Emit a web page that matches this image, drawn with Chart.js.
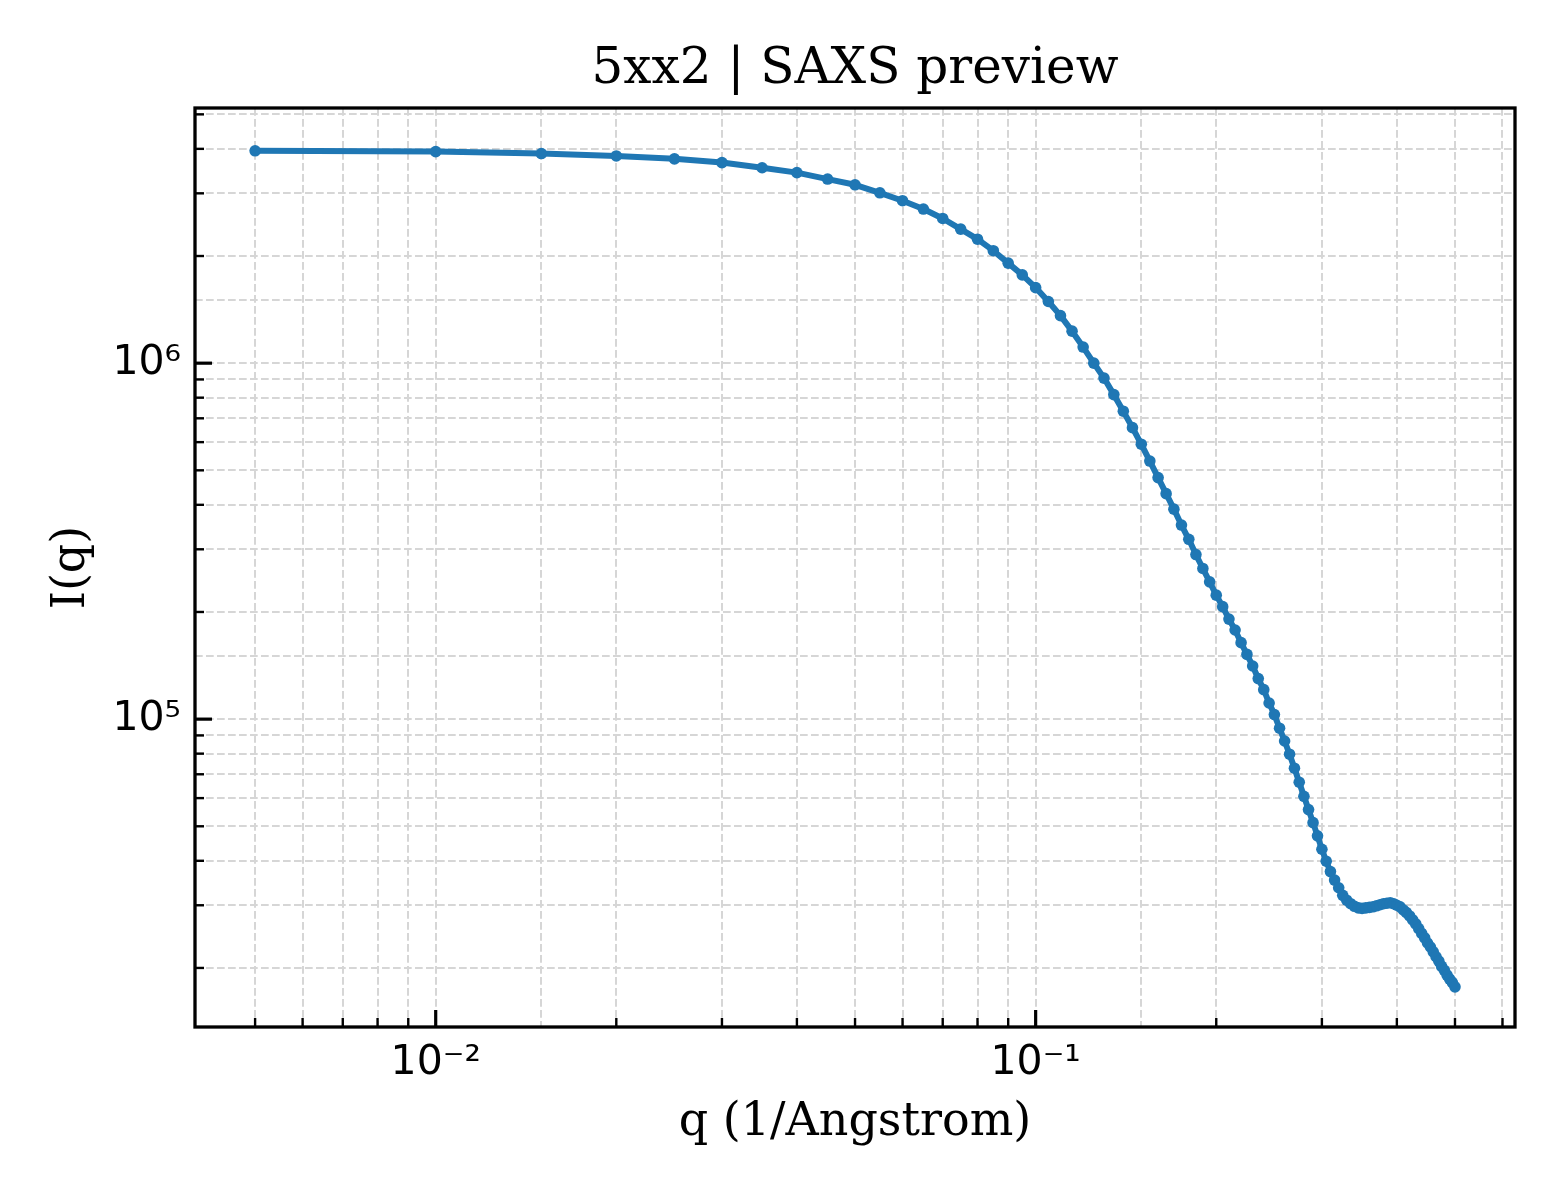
<!DOCTYPE html>
<html>
<head>
<meta charset="utf-8">
<title>5xx2 | SAXS preview</title>
<script src="https://cdn.jsdelivr.net/npm/chart.js@4.4.0/dist/chart.umd.min.js"></script>
<style>
  html, body { margin: 0; padding: 0; background: #fff; }
  #wrap { width: 1560px; height: 1200px; }
</style>
</head>
<body>
<div id="wrap"><canvas id="saxs" width="1560" height="1200"></canvas></div>
<script>
"use strict";

// q in 1/Angstrom
const qValues = [
  0.005, 0.010, 0.015, 0.020, 0.025, 0.030, 0.035, 0.040, 0.045, 0.050,
  0.055, 0.060, 0.065, 0.070, 0.075, 0.080, 0.085, 0.090, 0.095, 0.100,
  0.105, 0.110, 0.115, 0.120, 0.125, 0.130, 0.135, 0.140, 0.145, 0.150,
  0.155, 0.160, 0.165, 0.170, 0.175, 0.180, 0.185, 0.190, 0.195, 0.200,
  0.205, 0.210, 0.215, 0.220, 0.225, 0.230, 0.235, 0.240, 0.245, 0.250,
  0.255, 0.260, 0.265, 0.270, 0.275, 0.280, 0.285, 0.290, 0.295, 0.300,
  0.305, 0.310, 0.315, 0.320, 0.325, 0.330, 0.335, 0.340, 0.345, 0.350,
  0.355, 0.360, 0.365, 0.370, 0.375, 0.380, 0.385, 0.390, 0.395, 0.400,
  0.405, 0.410, 0.415, 0.420, 0.425, 0.430, 0.435, 0.440, 0.445, 0.450,
  0.455, 0.460, 0.465, 0.470, 0.475, 0.480, 0.485, 0.490, 0.495, 0.500
];

// I(q)
const intensity = [
  3.95e6, 3.93e6, 3.88e6, 3.82e6, 3.75e6, 3.66e6, 3.54e6, 3.43e6, 3.29e6, 3.17e6,
  3.01e6, 2.86e6, 2.71e6, 2.55e6, 2.38e6, 2.23e6, 2.07e6, 1.91e6, 1.77e6, 1.63e6,
  1.49e6, 1.36e6, 1.23e6, 1.11e6, 1.00e6, 9.08e5, 8.16e5, 7.33e5, 6.59e5, 5.92e5,
  5.31e5, 4.77e5, 4.30e5, 3.89e5, 3.51e5, 3.20e5, 2.90e5, 2.65e5, 2.43e5, 2.23e5,
  2.07e5, 1.91e5, 1.78e5, 1.64e5, 1.52e5, 1.41e5, 1.30e5, 1.21e5, 1.11e5, 1.03e5,
  9.43e4, 8.68e4, 7.97e4, 7.28e4, 6.65e4, 6.07e4, 5.57e4, 5.12e4, 4.70e4, 4.31e4,
  3.99e4, 3.73e4, 3.53e4, 3.36e4, 3.20e4, 3.10e4, 3.03e4, 2.98e4, 2.95e4, 2.94e4,
  2.95e4, 2.96e4, 2.97e4, 2.99e4, 3.01e4, 3.03e4, 3.04e4, 3.05e4, 3.03e4, 3.00e4,
  2.97e4, 2.91e4, 2.86e4, 2.80e4, 2.73e4, 2.66e4, 2.58e4, 2.50e4, 2.43e4, 2.35e4,
  2.29e4, 2.22e4, 2.15e4, 2.09e4, 2.02e4, 1.97e4, 1.91e4, 1.86e4, 1.82e4, 1.77e4
];

// only the decades get a label
const xTickLabels = { "-2": "10\u207B\u00B2", "-1": "10\u207B\u00B9" };
const yTickLabels = { "5": "10\u2075", "6": "10\u2076" };

const xRange = [0.00397, 0.6295];
const yRange = [13650, 5.21e6];

const serif = "'DejaVu Serif', serif";
const sans = "'DejaVu Sans', sans-serif";
const gridColor = "#d6d6d6";

function decadeLabel(labels) {
  return function (value) {
    const e = Math.log10(value);
    const r = Math.round(e);
    if (Math.abs(e - r) < 1e-6 && labels[r] !== undefined) {
      return labels[r];
    }
    return "";
  };
}

// ticks pointing inward + a box round the axes, like matplotlib
const frameAndTicks = {
  id: "frameAndTicks",
  afterDraw(chart) {
    const ctx = chart.ctx;
    const a = chart.chartArea;
    ctx.save();
    ctx.strokeStyle = "#000";
    [chart.scales.x, chart.scales.y].forEach(function (scale) {
      scale.ticks.forEach(function (t) {
        const e = Math.floor(Math.log10(t.value) + 1e-9);
        const sig = t.value / Math.pow(10, e);
        if (Math.abs(sig - Math.round(sig)) > 1e-6) return; // min/max edge ticks
        const major = Math.round(sig) === 1;
        const len = major ? 17 : 9;
        const p = scale.getPixelForValue(t.value);
        ctx.lineWidth = major ? 3.2 : 2.4;
        ctx.beginPath();
        if (scale.isHorizontal()) {
          ctx.moveTo(p, a.bottom);
          ctx.lineTo(p, a.bottom - len);
        } else {
          ctx.moveTo(a.left, p);
          ctx.lineTo(a.left + len, p);
        }
        ctx.stroke();
      });
    });
    ctx.lineWidth = 3.3;
    ctx.strokeRect(a.left, a.top, a.right - a.left, a.bottom - a.top);
    ctx.restore();
  }
};

const ctx = document.getElementById("saxs").getContext("2d");

new Chart(ctx, {
  type: "line",
  data: {
    datasets: [{
      label: "5xx2",
      data: qValues.map(function (q, i) { return { x: q, y: intensity[i] }; }),
      borderColor: "#1f77b4",
      backgroundColor: "#1f77b4",
      borderWidth: 6,
      borderJoinStyle: "round",
      pointRadius: 5.8,
      pointHoverRadius: 5.8,
      pointBorderWidth: 0,
      tension: 0
    }]
  },
  options: {
    responsive: false,
    devicePixelRatio: 1,
    animation: false,
    layout: {
      padding: { left: 0, right: 45, top: 0, bottom: 0 }
    },
    plugins: {
      legend: { display: false },
      tooltip: { enabled: false },
      title: {
        display: true,
        text: "5xx2 | SAXS preview",
        color: "#000",
        fullSize: false,
        font: { family: serif, size: 50, weight: "normal", lineHeight: 1.2 },
        padding: { top: 40, bottom: 8 }
      }
    },
    scales: {
      x: {
        type: "logarithmic",
        min: xRange[0],
        max: xRange[1],
        afterFit: function (scale) { scale.height = 173; },
        grid: { color: gridColor, lineWidth: 2, drawTicks: false },
        border: { display: false, dash: [7.7, 3.3] },
        ticks: {
          autoSkip: false,
          maxRotation: 0,
          minRotation: 0,
          padding: 12,
          color: "#000",
          font: { family: sans, size: 41 },
          callback: decadeLabel(xTickLabels)
        },
        title: {
          display: true,
          text: "q (1/Angstrom)",
          color: "#000",
          font: { family: serif, size: 46, lineHeight: 1.2 },
          padding: { top: 0, bottom: 49 }
        }
      },
      y: {
        type: "logarithmic",
        min: yRange[0],
        max: yRange[1],
        afterFit: function (scale) { scale.width = 195; },
        grid: { color: gridColor, lineWidth: 2, drawTicks: false },
        border: { display: false, dash: [7.7, 3.3] },
        ticks: {
          autoSkip: false,
          padding: 14,
          color: "#000",
          font: { family: sans, size: 41 },
          callback: decadeLabel(yTickLabels)
        },
        title: {
          display: true,
          text: "I(q)",
          color: "#000",
          font: { family: serif, size: 46, lineHeight: 1.2 },
          padding: { top: 44, bottom: 0 }
        }
      }
    }
  },
  plugins: [frameAndTicks]
});
</script>
</body>
</html>
